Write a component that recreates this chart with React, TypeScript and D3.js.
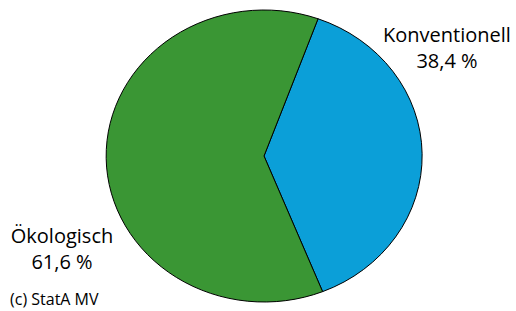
import * as d3 from 'd3'
import { useEffect, useRef } from 'react'

const WIDTH = 516
const HEIGHT = 311

const CATEGORIES = ['Konventionell', 'Ökologisch']
const SHARES = [38.4, 61.6]
const SHARE_LABELS = ['38,4 %', '61,6 %']
const COLORS = ['#0b9fd8', '#3a9634']
const SOURCE = '(c) StatA MV'

const CX = 264
const CY = 156
const RX = 158
const RY = 146
const START = (20 * Math.PI) / 180

// label anchor points, in page pixels
const LABEL_POS: [number, number][] = [
  [447, 42],
  [62, 243],
]

export default function App() {
  const ref = useRef<SVGSVGElement>(null)

  useEffect(() => {
    if (!ref.current) return
    const svg = d3.select(ref.current)
    svg.selectAll('*').remove()

    const pie = d3
      .pie<number>()
      .sort(null)
      .startAngle(START)
      .endAngle(START + 2 * Math.PI)
    const arc = d3.arc<d3.PieArcDatum<number>>().innerRadius(0).outerRadius(1)

    const g = svg.append('g').attr('transform', `translate(${CX},${CY}) scale(${RX},${RY})`)
    g.selectAll('path')
      .data(pie(SHARES))
      .join('path')
      .attr('d', arc)
      .attr('fill', (_, i) => COLORS[i])
      .attr('stroke', '#000')
      .attr('stroke-width', 1)
      .attr('vector-effect', 'non-scaling-stroke')

    const labels = svg
      .append('g')
      .attr('font-family', '"Open Sans", sans-serif')
      .attr('font-size', 20)
      .attr('fill', '#000')
      .attr('text-anchor', 'middle')
    CATEGORIES.forEach((c, i) => {
      const [x, y] = LABEL_POS[i]
      labels.append('text').attr('x', x).attr('y', y).text(c)
      labels
        .append('text')
        .attr('x', x)
        .attr('y', y + 26)
        .text(SHARE_LABELS[i])
    })

    svg
      .append('text')
      .attr('x', 10)
      .attr('y', 305)
      .attr('font-family', '"Open Sans", sans-serif')
      .attr('font-size', 16)
      .attr('fill', '#000')
      .text(SOURCE)
  }, [])

  return (
    <svg
      ref={ref}
      width={WIDTH}
      height={HEIGHT}
      style={{ position: 'absolute', left: 0, top: 0, background: '#fff' }}
    />
  )
}
